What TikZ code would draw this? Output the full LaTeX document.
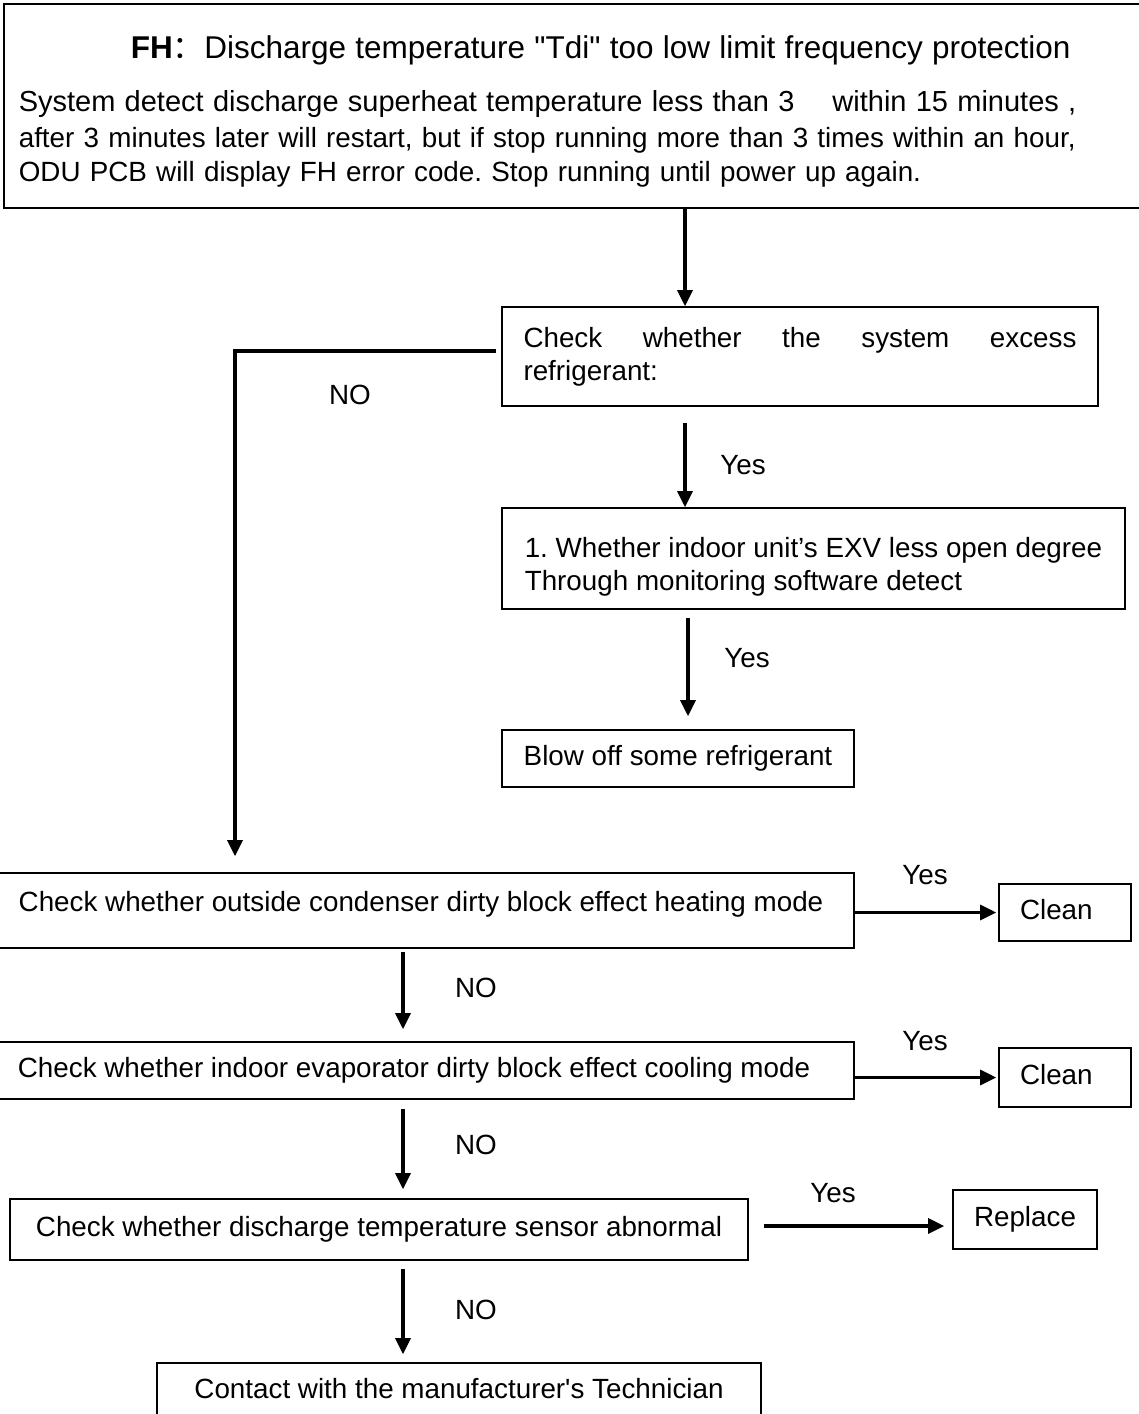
\documentclass[tikz,border=0pt]{standalone}
\usepackage{fontspec}
\setmainfont{Liberation Sans}
\newfontfamily\cjk{Noto Sans CJK SC}
\usetikzlibrary{arrows.meta,calc}

\begin{document}
\frenchspacing
\begin{tikzpicture}[x=1pt,y=-1pt,
  font=\fontsize{27.8}{33}\selectfont,
  box/.style={draw,line width=1.6pt,inner sep=0pt},
  tx/.style={text height=20pt,text depth=6pt},
  flow/.style={line width=3.2pt,-{Triangle[length=16pt,width=15pt]}},
  lbl/.style={inner sep=0pt}]
\clip (0,0) rectangle (1139,1414);

% header
\node[box,anchor=north west,minimum width=1142pt,minimum height=204pt,
  text width=1112pt,inner xsep=15pt,align=left] (head) at (3,3)
  {{\fontsize{31.5}{36}\selectfont\rule{0pt}{35pt}\hspace*{112pt}\textbf{FH}{\cjk ：}Discharge temperature \textquotedbl Tdi\textquotedbl{} too low limit frequency protection}\\[20pt]
   {\fontsize{29}{33}\selectfont System detect discharge superheat temperature less than 3\hspace*{38pt}within 15 minutes ,}\\[3pt]
   after 3 minutes later will restart, but if stop running more than 3 times within an hour,\\[1pt]
   ODU PCB will display FH error code. Stop running until power up again.};

% checks
\node[box,minimum width=596pt,minimum height=99pt,text width=553pt,inner xsep=21.5pt,align=justify] (chk) at (800,356.5)
  {Check whether the system excess\linebreak refrigerant:};
\node[box,minimum width=623pt,minimum height=101pt,inner xsep=21pt,align=left] (exv) at (813.5,558.5)
  {\rule{0pt}{36pt}1. Whether indoor unit’s EXV less open degree\\Through monitoring software detect};
\node[box,tx,minimum width=352pt,minimum height=57pt] (blow) at (678,758.5) {Blow off some refrigerant};
\node[box,tx,text depth=19pt,minimum width=866pt,minimum height=75pt] (cond) at (421,910.5)
  {Check whether outside condenser dirty block effect heating mode};
\node[box,tx,minimum width=880pt,minimum height=57pt] (evap) at (414,1070.5)
  {Check whether indoor evaporator dirty block effect cooling mode};
\node[box,tx,minimum width=738pt,minimum height=61pt] (sens) at (379,1229.5)
  {Check whether discharge temperature sensor abnormal};
\node[box,tx,minimum width=604pt,minimum height=57pt] (tech) at (459,1391.5)
  {Contact with the manufacturer\textquotesingle s Technician};

% actions
\node[box,tx,minimum height=57pt,text width=90pt,inner xsep=21pt,align=left] (clean1) at (1065,912.5) {Clean};
\node[box,tx,minimum height=59pt,text width=90pt,inner xsep=21pt,align=left] (clean2) at (1065,1077.5) {Clean};
\node[box,tx,minimum width=144pt,minimum height=59pt] (rep) at (1025,1219.5) {Replace};

\coordinate (c1) at (685,0);
\coordinate (c2) at (688,0);
\coordinate (c3) at (403,0);
\coordinate (c4) at (235,0);

\draw[flow] (head.south -| c1) -- (chk.north -| c1);
\draw[flow,shorten <=16pt] (chk.south -| c1) -- (exv.north -| c1);
\draw[flow,shorten <=8pt,shorten >=13pt] (exv.south -| c2) -- (blow.north -| c2);
\draw[flow,shorten >=16pt] ([shift={(-5pt,5.5pt)}]chk.west) -| (cond.north -| c4);

\draw[flow,shorten >=2pt] (cond.east |- clean1.west) -- (clean1.west);
\draw[flow,shorten >=2pt] (evap.east |- clean2.west) -- (clean2.west);
\draw[flow,shorten <=15pt,shorten >=8pt] ([yshift=3.5pt]sens.east) -- ([yshift=3.5pt]sens.east -| rep.west);

\draw[flow,shorten <=3pt,shorten >=12pt] (cond.south -| c3) -- (evap.north -| c3);
\draw[flow,shorten <=9pt,shorten >=9pt] (evap.south -| c3) -- (sens.north -| c3);
\draw[flow,shorten <=8pt,shorten >=8pt] (sens.south -| c3) -- (tech.north -| c3);

% labels
\node[lbl] (no0) at (350,395) {NO};
\node[lbl] (yes1) at (743,465) {Yes};
\node[lbl] (yes2) at (747,658) {Yes};
\node[lbl] (yes3) at (925,875) {Yes};
\node[lbl] (no1) at (476,988) {NO};
\node[lbl] (yes4) at (925,1041) {Yes};
\node[lbl] (no2) at (476,1145) {NO};
\node[lbl] (yes5) at (833,1193) {Yes};
\node[lbl] (no3) at (476,1310) {NO};
\end{tikzpicture}
\end{document}
